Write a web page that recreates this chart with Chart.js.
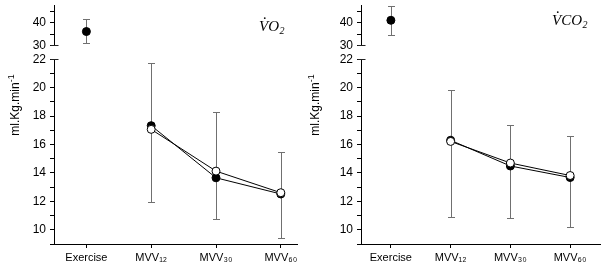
<!DOCTYPE html>
<html>
<head>
<meta charset="utf-8">
<script src="https://cdn.jsdelivr.net/npm/chart.js@4.4.1/dist/chart.umd.min.js"></script>
<style>
	html, body { margin: 0; padding: 0; background: #fff; }
	#wrap { position: relative; width: 605px; height: 266px; }
	#wrap canvas { position: absolute; top: 0; }
</style>
</head>
<body>
<div id="wrap">
	<canvas id="vo2" width="302" height="266" style="left:0"></canvas>
	<canvas id="vco2" width="303" height="266" style="left:302px"></canvas>
</div>
<script>
// categories on the x axis (0 = Exercise, 1..3 = MVV tests)
const categories = [ 'Exercise', 'MVV₁₂', 'MVV₃₀', 'MVV₆₀' ];
const mvvX = [ 1, 2, 3 ];

// VO2 panel
const vo2Exercise = 36.2;
const vo2ExerciseErr = [ 31.0, 41.6 ];
const vo2Filled = [ 17.33, 13.66, 12.52 ];
const vo2Open = [ 17.07, 14.13, 12.61 ];
const vo2ErrLow = [ 11.96, 10.73, 9.43 ];
const vo2ErrHigh = [ 21.72, 18.26, 15.45 ];

// VCO2 panel
const vco2Exercise = 41.2;
const vco2ExerciseErr = [ 34.7, 47.6 ];
const vco2Filled = [ 16.3, 14.49, 13.68 ];
const vco2Open = [ 16.22, 14.7, 13.82 ];
const vco2ErrLow = [ 10.9, 10.8, 10.2 ];
const vco2ErrHigh = [ 19.87, 17.38, 16.59 ];

// broken y axis: labelled ticks of the upper and lower segment
const topTicks = [ 30, 40 ];
const bottomTicks = [ 10, 12, 14, 16, 18, 20, 22 ];

Chart.defaults.font.family = 'Arial, "Liberation Sans", sans-serif';
Chart.defaults.font.size = 12;
Chart.defaults.color = '#000';

const noPad = ( scale ) => {
	scale.paddingTop = 0; scale.paddingBottom = 0;
	scale.paddingLeft = 0; scale.paddingRight = 0;
};

const extras = {
	id: 'extras',
	beforeDatasetsDraw( chart ) {
		const ctx = chart.ctx;
		const xs = chart.scales.x;
		ctx.save();
		ctx.strokeStyle = '#707070';
		ctx.lineWidth = 1;
		chart.data.datasets.forEach( ( ds ) => {
			if ( !ds.errLow ) return;
			const ys = chart.scales[ ds.yAxisID ];
			ds.data.forEach( ( p, i ) => {
				const px = Math.round( xs.getPixelForValue( p.x ) ) + 0.5;
				const lo = Math.round( ys.getPixelForValue( ds.errLow[ i ] ) ) + 0.5;
				const hi = Math.round( ys.getPixelForValue( ds.errHigh[ i ] ) ) + 0.5;
				ctx.beginPath();
				ctx.moveTo( px, lo ); ctx.lineTo( px, hi );
				ctx.moveTo( px - 3.5, lo ); ctx.lineTo( px + 3.5, lo );
				ctx.moveTo( px - 3.5, hi ); ctx.lineTo( px + 3.5, hi );
				ctx.stroke();
			} );
		} );
		ctx.restore();
	},
	afterDraw( chart, args, opts ) {
		const ctx = chart.ctx;
		const yTop = chart.scales.yTop;
		const yBot = chart.scales.yBot;
		ctx.save();

		// break marks across the y axis
		ctx.strokeStyle = '#222';
		ctx.lineWidth = 1;
		const ax = Math.round( yBot.right ) + 0.5;
		[ yTop.getPixelForValue( yTop.min ), yBot.getPixelForValue( yBot.max ) ].forEach( ( y ) => {
			const py = Math.round( y ) + 0.5;
			ctx.beginPath();
			ctx.moveTo( ax - 4, py ); ctx.lineTo( ax + 4, py );
			ctx.stroke();
		} );

		// y axis title with superscript
		ctx.fillStyle = '#000';
		ctx.translate( opts.titleX, opts.titleY );
		ctx.rotate( -Math.PI / 2 );
		ctx.textBaseline = 'alphabetic';
		ctx.font = '12px Arial, "Liberation Sans", sans-serif';
		const w1 = ctx.measureText( 'ml.Kg.min' ).width;
		ctx.font = '9px Arial, "Liberation Sans", sans-serif';
		const w2 = ctx.measureText( '-1' ).width;
		const start = -( w1 + w2 ) / 2;
		ctx.font = '12px Arial, "Liberation Sans", sans-serif';
		ctx.fillText( 'ml.Kg.min', start, 0 );
		ctx.font = '9px Arial, "Liberation Sans", sans-serif';
		ctx.fillText( '-1', start + w1, -5 );
		ctx.setTransform( 1, 0, 0, 1, 0, 0 );

		// gas label (V with dot + formula + subscript 2)
		const serif = '"Liberation Serif", "Times New Roman", serif';
		ctx.font = 'italic 15px ' + serif;
		ctx.textAlign = 'left';
		const wV = ctx.measureText( 'V' ).width;
		ctx.fillText( 'V', opts.labelX, opts.labelY );
		ctx.textAlign = 'center';
		ctx.fillText( '.', opts.labelX + wV * 0.66, opts.labelY - 12 );
		ctx.textAlign = 'left';
		ctx.fillText( opts.gas, opts.labelX + wV, opts.labelY );
		const wG = ctx.measureText( opts.gas ).width;
		ctx.font = 'italic 10px ' + serif;
		ctx.fillText( '2', opts.labelX + wV + wG + 0.5, opts.labelY + 3 );
		ctx.restore();
	},
};

function makePanel( id, cfg ) {
	const fitY = ( scale ) => { scale.width = cfg.axisWidth; noPad( scale ); };
	return new Chart( document.getElementById( id ), {
		type: 'scatter',
		data: {
			datasets: [
				{
					label: 'open',
					data: mvvX.map( ( x, i ) => ( { x, y: cfg.open[ i ] } ) ),
					yAxisID: 'yBot',
					showLine: true,
					borderColor: '#000',
					borderWidth: 1,
					pointRadius: 4,
					pointBackgroundColor: '#fff',
					pointBorderColor: '#000',
					pointBorderWidth: 1,
					order: 0,
				},
				{
					label: 'filled',
					data: mvvX.map( ( x, i ) => ( { x, y: cfg.filled[ i ] } ) ),
					yAxisID: 'yBot',
					showLine: true,
					borderColor: '#000',
					borderWidth: 1,
					pointRadius: 4,
					pointBackgroundColor: '#000',
					pointBorderColor: '#000',
					errLow: cfg.errLow,
					errHigh: cfg.errHigh,
					order: 1,
				},
				{
					label: 'exercise',
					data: [ { x: 0, y: cfg.exercise } ],
					yAxisID: 'yTop',
					pointRadius: 4,
					pointBackgroundColor: '#000',
					pointBorderColor: '#000',
					errLow: [ cfg.exerciseErr[ 0 ] ],
					errHigh: [ cfg.exerciseErr[ 1 ] ],
					order: 2,
				},
			],
		},
		options: {
			responsive: false,
			animation: false,
			events: [],
			clip: false,
			layout: { padding: { top: 2, right: cfg.rightPad, bottom: 0, left: 0 } },
			plugins: {
				legend: { display: false },
				tooltip: { enabled: false },
				extras: { titleX: cfg.titleX, titleY: 105, labelX: cfg.labelX, labelY: cfg.labelY, gas: cfg.gas },
			},
			scales: {
				x: {
					type: 'linear',
					min: -0.5,
					max: cfg.xMax,
					afterBuildTicks: ( scale ) => { scale.ticks = categories.map( ( c, i ) => ( { value: i } ) ); },
					afterFit: ( scale ) => { scale.height = 22; noPad( scale ); },
					ticks: { callback: ( v ) => categories[ v ], font: { size: 11 }, padding: 3, maxRotation: 0, autoSkip: false },
					grid: { drawOnChartArea: false, tickLength: 4, color: '#000' },
					border: { color: '#000', width: 1 },
				},
				yTop: {
					type: 'linear',
					position: 'left',
					stack: 'y',
					stackWeight: 41,
					weight: 2,
					min: 30,
					max: 48,
					afterFit: fitY,
					afterBuildTicks: ( scale ) => { scale.ticks = [ 30, 35, 40, 45 ].map( ( value ) => ( { value } ) ); },
					ticks: { callback: ( v ) => ( topTicks.includes( v ) ? v : '' ), padding: 4, autoSkip: false },
					grid: { drawOnChartArea: false, tickLength: 4, color: '#000' },
					border: { color: '#000', width: 1 },
				},
				yGap: {
					type: 'linear',
					position: 'left',
					stack: 'y',
					stackWeight: 14,
					weight: 1,
					afterFit: fitY,
					ticks: { display: false },
					grid: { display: false },
					border: { display: false },
				},
				yBot: {
					type: 'linear',
					position: 'left',
					stack: 'y',
					stackWeight: 187,
					weight: 0,
					min: 9,
					max: 22,
					afterFit: fitY,
					afterBuildTicks: ( scale ) => {
						const t = [];
						for ( let v = 9; v <= 22; v++ ) t.push( { value: v } );
						scale.ticks = t;
					},
					ticks: { callback: ( v ) => ( bottomTicks.includes( v ) ? v : '' ), padding: 4, autoSkip: false },
					grid: { drawOnChartArea: false, tickLength: 4, color: '#000' },
					border: { color: '#000', width: 1 },
				},
			},
		},
		plugins: [ extras ],
	} );
}

makePanel( 'vo2', {
	exercise: vo2Exercise, exerciseErr: vo2ExerciseErr,
	filled: vo2Filled, open: vo2Open, errLow: vo2ErrLow, errHigh: vo2ErrHigh,
	axisWidth: 54, rightPad: 5, xMax: 3.25,
	titleX: 18.5, labelX: 259, labelY: 31, gas: 'O',
} );

makePanel( 'vco2', {
	exercise: vco2Exercise, exerciseErr: vco2ExerciseErr,
	filled: vco2Filled, open: vco2Open, errLow: vco2ErrLow, errHigh: vco2ErrHigh,
	axisWidth: 59, rightPad: 0, xMax: 3.5,
	titleX: 17, labelX: 250, labelY: 25, gas: 'CO',
} );
</script>
</body>
</html>
